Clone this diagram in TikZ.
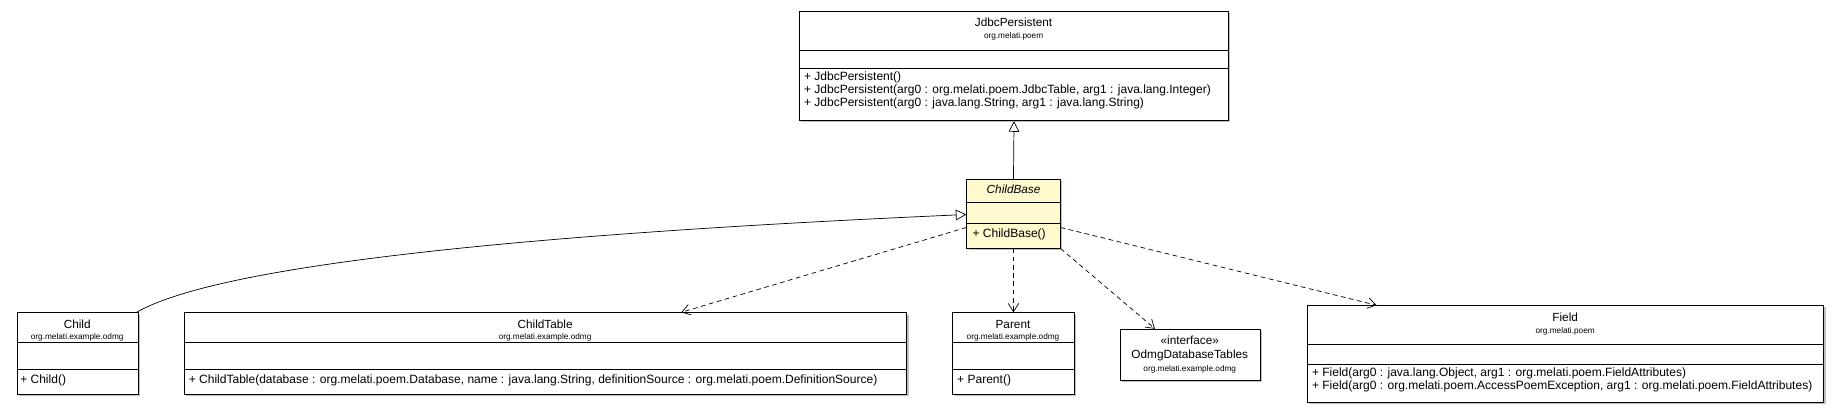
\documentclass[tikz,border=0pt]{standalone}
\usepackage{fontspec}
\setmainfont{Liberation Sans}
\usetikzlibrary{arrows.meta,shadows}
\definecolor{notefill}{HTML}{FFFACD}
\tikzset{
  cls/.style={draw, line width=0.8pt, fill=white, drop shadow={shadow xshift=1.5pt, shadow yshift=-1.5pt, opacity=0.5}, anchor=north west, inner sep=0pt},
  ttl/.style={font=\fontsize{10}{11}\selectfont, inner sep=0pt},
  pkg/.style={font=\fontsize{7}{8}\selectfont, inner sep=0pt},
  mth/.style={font=\fontsize{10.2}{11}\selectfont, anchor=north west, align=left, inner sep=0pt},
  inh/.style={line width=0.6pt, -{Triangle[open, length=9pt, width=9pt]}},
  dep/.style={line width=0.6pt, dashed, dash pattern=on 4pt off 3pt, -{Straight Barb[length=7pt, width=9pt]}}
}
\begin{document}
\begin{tikzpicture}[x=1pt, y=-1pt]
  \useasboundingbox (0,0) rectangle (1568,350);
  % JdbcPersistent
  \node[cls, minimum width=364pt, minimum height=93pt] (jdbc) at (678,9) {};
  \draw (678,43) -- (1042,43) (678,58) -- (1042,58);
  \node[ttl] at (860,19) {JdbcPersistent};
  \node[pkg] at (860,31) {org.melati.poem};
  \node[mth] at (682,61) {+ JdbcPersistent()\\+ JdbcPersistent(arg0 : org.melati.poem.JdbcTable, arg1 : java.lang.Integer)\\+ JdbcPersistent(arg0 : java.lang.String, arg1 : java.lang.String)};
  % ChildBase
  \node[cls, fill=notefill, minimum width=79pt, minimum height=58pt] (cbase) at (820,152) {};
  \draw (820,172) -- (899,172) (820,189) -- (899,189);
  \node[ttl, font=\itshape\fontsize{10}{11}\selectfont] at (860,161) {ChildBase};
  \node[mth] at (825,194) {+ ChildBase()};
  % Child
  \node[cls, minimum width=103pt, minimum height=69pt] (child) at (14,265) {};
  \draw (14,290) -- (117,290) (14,313) -- (117,313);
  \node[ttl] at (65.5,275) {Child};
  \node[pkg] at (65.5,286) {org.melati.example.odmg};
  \node[mth] at (17,318) {+ Child()};
  % ChildTable
  \node[cls, minimum width=613pt, minimum height=69pt] (ctable) at (156,265) {};
  \draw (156,290) -- (769,290) (156,313) -- (769,313);
  \node[ttl] at (462.5,275) {ChildTable};
  \node[pkg] at (462.5,286) {org.melati.example.odmg};
  \node[mth] at (160,318) {+ ChildTable(database : org.melati.poem.Database, name : java.lang.String, definitionSource : org.melati.poem.DefinitionSource)};
  % Parent
  \node[cls, minimum width=103pt, minimum height=69pt] (parent) at (808,265) {};
  \draw (808,290) -- (911,290) (808,313) -- (911,313);
  \node[ttl] at (859.5,275) {Parent};
  \node[pkg] at (859.5,286) {org.melati.example.odmg};
  \node[mth] at (812,318) {+ Parent()};
  % OdmgDatabaseTables
  \node[cls, minimum width=119pt, minimum height=43pt] (odmg) at (950,279) {};
  \node[ttl] at (1009.5,289) {«interface»};
  \node[ttl] at (1009.5,302) {OdmgDatabaseTables};
  \node[pkg] at (1009.5,313) {org.melati.example.odmg};
  % Field
  \node[cls, minimum width=438pt, minimum height=82pt] (field) at (1109,259) {};
  \draw (1109,292) -- (1547,292) (1109,309) -- (1547,309);
  \node[ttl] at (1328,269) {Field};
  \node[pkg] at (1328,281) {org.melati.poem};
  \node[mth] at (1113,312) {+ Field(arg0 : java.lang.Object, arg1 : org.melati.poem.FieldAttributes)\\+ Field(arg0 : org.melati.poem.AccessPoemException, arg1 : org.melati.poem.FieldAttributes)};
  % relations
  \draw[inh] ([xshift=-2pt]child.north east) .. controls (160,240) and (300,205) .. ([yshift=-30pt]cbase.north west);
  \draw[inh] (cbase.north) -- (jdbc.south);
  \draw[dep] ([yshift=-41pt]cbase.north west) -- (578,265);
  \draw[dep] (cbase.south) -- (parent.north);
  \draw[dep] (cbase.south east) -- (980,279);
  \draw[dep] ([yshift=-41pt]cbase.north east) -- (1168,259);
\end{tikzpicture}
\end{document}
